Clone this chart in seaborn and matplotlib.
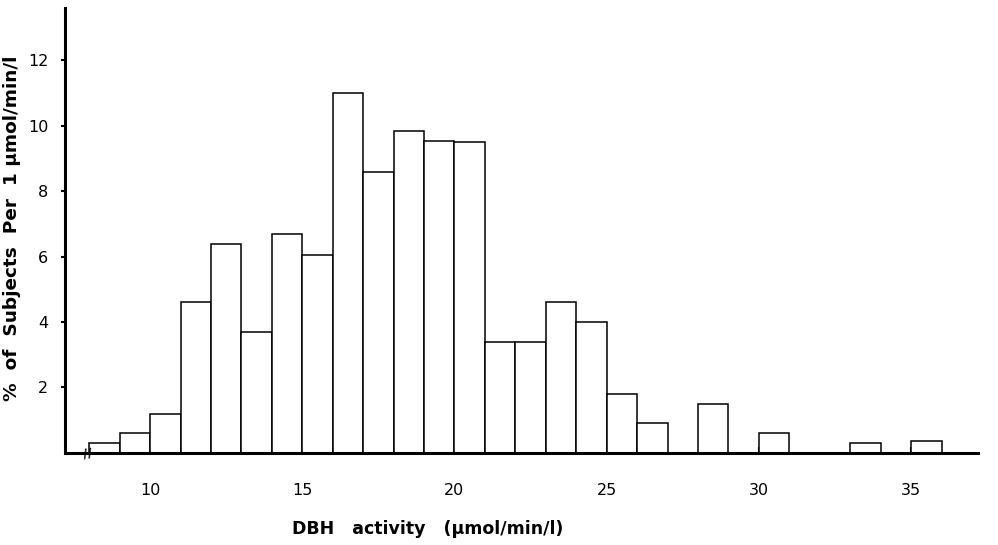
import numpy as np
import pandas as pd
import matplotlib
matplotlib.use("Agg")
import matplotlib.pyplot as plt
import seaborn as sns

# bin starts (umol/min/l, 1-unit wide bins) and % of subjects per bin
bin_start = [8, 9, 10, 11, 12, 13, 14, 15, 16, 17, 18, 19, 20, 21, 22,
             23, 24, 25, 26, 27, 28, 29, 30, 31, 32, 33, 34, 35]
pct = [0.3, 0.6, 1.2, 4.6, 6.4, 3.7, 6.7, 6.05, 11.0, 8.6, 9.85, 9.55, 9.5, 3.4, 3.4,
       4.6, 4.0, 1.8, 0.9, 0.0, 1.5, 0.0, 0.6, 0.0, 0.0, 0.3, 0.0, 0.35]
x_ticks = [10, 15, 20, 25, 30, 35]
y_ticks = [2, 4, 6, 8, 10, 12]

df = pd.DataFrame({"dbh": np.array(bin_start) + 0.5, "pct": pct})

sns.set_style("ticks")
plt.rcParams["font.family"] = ["DejaVu Sans"]

fig = plt.figure(figsize=(9.98, 5.45), dpi=100)
ax = fig.add_axes([0.065, 0.169, 0.915, 0.816])

sns.histplot(data=df, x="dbh", weights="pct", binwidth=1, binrange=(8, 36),
             stat="count", fill=True, color="white", edgecolor="black",
             linewidth=1.1, alpha=1, ax=ax)

ax.set_xlim(7.2, 37.2)
ax.set_ylim(0, 13.6)
ax.set_xticks(x_ticks)
ax.set_yticks(y_ticks)
ax.tick_params(axis="x", direction="in", length=4, width=1.5, pad=22,
               labelsize=11.5, colors="black")
ax.tick_params(axis="y", direction="out", length=3, width=1.5, pad=9,
               labelsize=11.5, colors="black")

for s in ["top", "right"]:
    ax.spines[s].set_visible(False)
for s in ["left", "bottom"]:
    ax.spines[s].set_linewidth(2.2)
    ax.spines[s].set_color("black")

# axis break mark
ax.text(7.95, 0, "//", ha="center", va="center", fontsize=9, fontweight="bold",
        rotation=10, color="black")

ax.set_xlabel("DBH   activity   (\u00b5mol/min/l)", fontsize=12.5,
              fontweight="bold", color="black")
ax.xaxis.set_label_coords(0.397, -0.15)
ax.set_ylabel("%  of  Subjects  Per  1 \u00b5mol/min/l", fontsize=13.3,
              fontweight="bold", color="black")
ax.yaxis.set_label_coords(-0.048, 0.506)

fig.savefig("out.png", dpi=100)
